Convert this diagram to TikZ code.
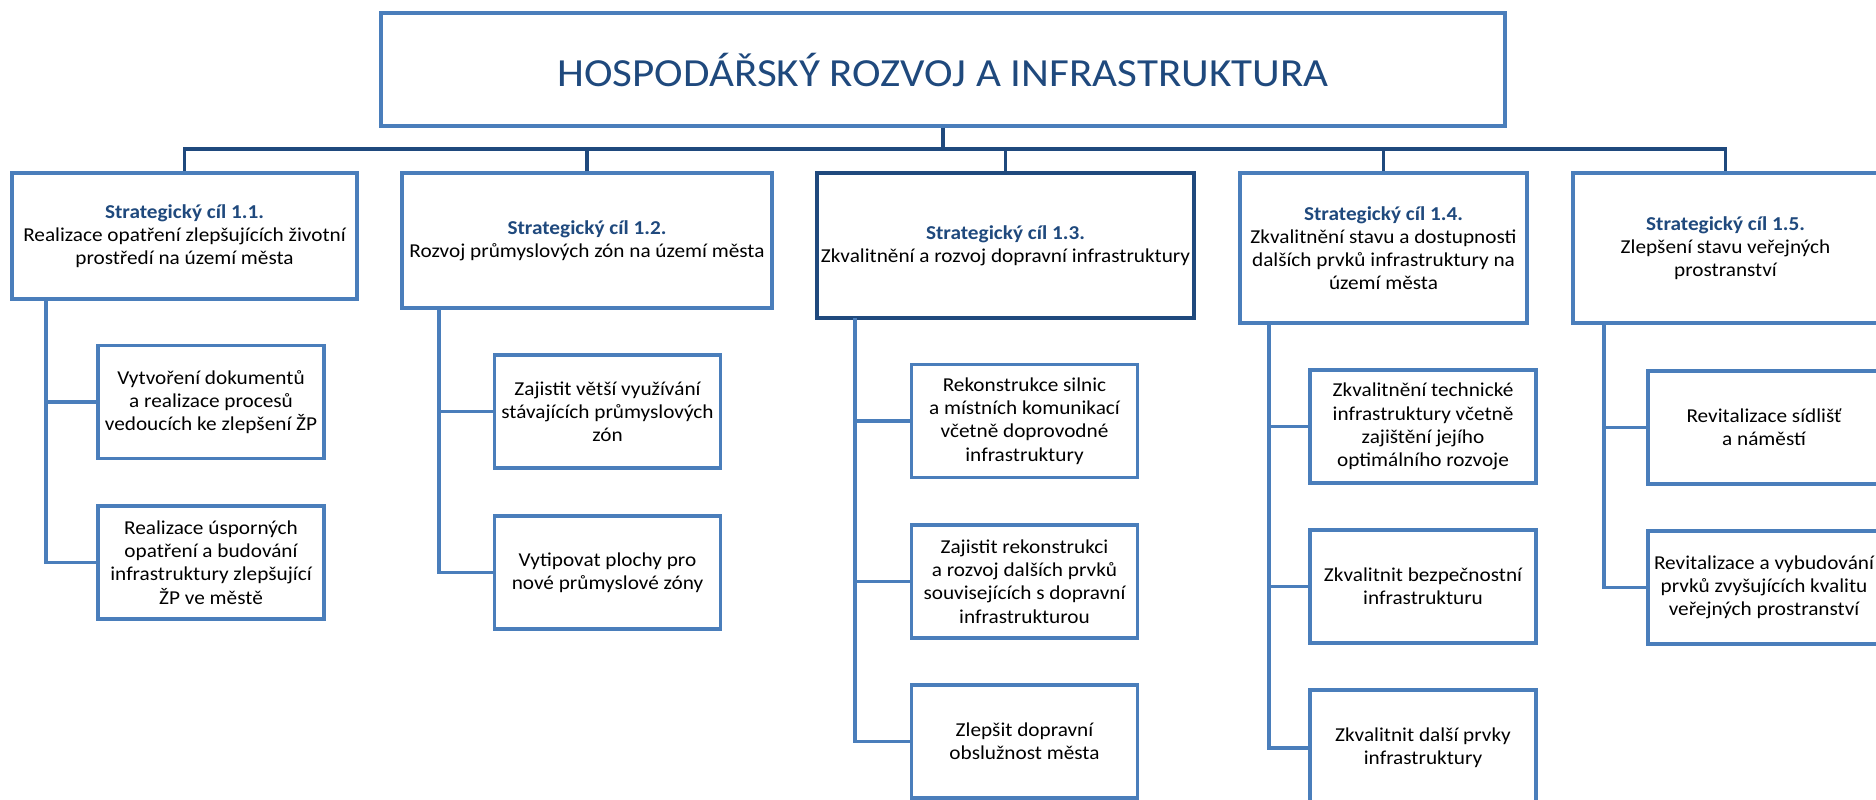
\documentclass[tikz,border=0pt]{standalone}
\usepackage{fontspec}
\setmainfont{Carlito}[FakeStretch=1.08]
\usetikzlibrary{positioning}
\definecolor{ramecek}{HTML}{4A7EBB}
\definecolor{tmava}{HTML}{1F497D}
\tikzset{
  box/.style={draw=ramecek,line width=2pt,align=center,inner sep=2pt,
    minimum width=4.52cm,minimum height=2.27cm,
    font=\fontsize{11.2}{13.2}\selectfont},
  cil/.style={box,font=\fontsize{11.2}{13.2}\selectfont},
  bus/.style={draw=tmava,line width=2pt},
  link/.style={draw=ramecek,line width=2pt},
}
\newcommand{\cilnadpis}[1]{\textcolor{tmava}{\textbf{Strategický cíl #1}}}

\begin{document}
\begin{tikzpicture}[x=0.02cm,y=-0.02cm]
        \path[use as bounding box,clip] (0,0) rectangle (1876,800);
        %hlavni box
        \node[box,minimum width=22.48cm,minimum height=2.26cm,
          font=\fontsize{22.7}{27}\selectfont,text=tmava] (top) at (943,69.5)
          {HOSPODÁŘSKÝ ROZVOJ A INFRASTRUKTURA};
        %strategicke cile
        \node[cil,minimum width=6.90cm,minimum height=2.52cm] (c11) at (184.5,236)
          {\cilnadpis{1.1.}\\Realizace opatření zlepšujících životní\\prostředí na území města};
        \node[cil,minimum width=7.40cm,minimum height=2.70cm] (c12) at (587,240.5)
          {\cilnadpis{1.2.}\\Rozvoj průmyslových zón na území města};
        \node[cil,draw=tmava,line width=2.3pt,minimum width=7.54cm,minimum height=2.90cm] (c13) at (1005.5,245.5)
          {\cilnadpis{1.3.}\\Zkvalitnění a rozvoj dopravní infrastruktury};
        \node[cil,minimum width=5.74cm,minimum height=3.00cm] (c14) at (1383.5,248)
          {\cilnadpis{1.4.}\\Zkvalitnění stavu a dostupnosti\\dalších prvků infrastruktury na\\území města};
        \node[cil,minimum width=6.10cm,minimum height=3.00cm] (c15) at (1725.5,248)
          {\cilnadpis{1.5.}\\Zlepšení stavu veřejných\\prostranství};
        %sbernice
        \coordinate (bus) at (943,149);
        \draw[bus] (top) -- (bus);
        \draw[bus] (c11.north) |- (bus) -| (c15.north);
        \draw[bus] (c12.north) -- (c12.north |- bus);
        \draw[bus] (c13.north) -- (c13.north |- bus);
        \draw[bus] (c14.north) -- (c14.north |- bus);
        %opatreni 1.1
        \node[box] (c11a) at (211,402) {Vytvoření dokumentů\\a realizace procesů\\vedoucích ke zlepšení ŽP};
        \node[box] (c11b) at (211,562.5) {Realizace úsporných\\opatření a budování\\infrastruktury zlepšující\\ŽP ve městě};
        %opatreni 1.2
        \node[box] (c12a) at (607.5,411.5) {Zajistit větší využívání\\stávajících průmyslových\\zón};
        \node[box] (c12b) at (607.5,572.5) {Vytipovat plochy pro\\nové průmyslové zóny};
        %opatreni 1.3
        \node[box] (c13a) at (1024.5,421) {Rekonstrukce silnic\\a místních komunikací\\včetně doprovodné\\infrastruktury};
        \node[box] (c13b) at (1024.5,581.5) {Zajistit rekonstrukci\\a rozvoj dalších prvků\\souvisejících s dopravní\\infrastrukturou};
        \node[box] (c13c) at (1024.5,741.5) {Zlepšit dopravní\\obslužnost města};
        %opatreni 1.4
        \node[box] (c14a) at (1423,426.5) {Zkvalitnění technické\\infrastruktury včetně\\zajištění jejího\\optimálního rozvoje};
        \node[box] (c14b) at (1423,586.5) {Zkvalitnit bezpečnostní\\infrastrukturu};
        \node[box,minimum height=2.32cm] (c14c) at (1423,748) {Zkvalitnit další prvky\\infrastruktury};
        %opatreni 1.5
        \node[box,minimum width=4.64cm] (c15a) at (1764,427.5) {Revitalizace sídlišť\\a náměstí};
        \node[box,minimum width=4.64cm] (c15b) at (1764,587.5) {Revitalizace a vybudování\\prvků zvyšujících kvalitu\\veřejných prostranství};
        %spojnice
        \coordinate (t11) at (46,299);
        \coordinate (t12) at (439,308);
        \coordinate (t13) at (855,318);
        \coordinate (t14) at (1269,323);
        \coordinate (t15) at (1604,323);
        \draw[link] (t11) |- (c11a.west);
        \draw[link] (t11) |- (c11b.west);
        \draw[link] (t12) |- (c12a.west);
        \draw[link] (t12) |- (c12b.west);
        \draw[link] (t13) |- (c13a.west);
        \draw[link] (t13) |- (c13b.west);
        \draw[link] (t13) |- (c13c.west);
        \draw[link] (t14) |- (c14a.west);
        \draw[link] (t14) |- (c14b.west);
        \draw[link] (t14) |- (c14c.west);
        \draw[link] (t15) |- (c15a.west);
        \draw[link] (t15) |- (c15b.west);
\end{tikzpicture}
\end{document}
